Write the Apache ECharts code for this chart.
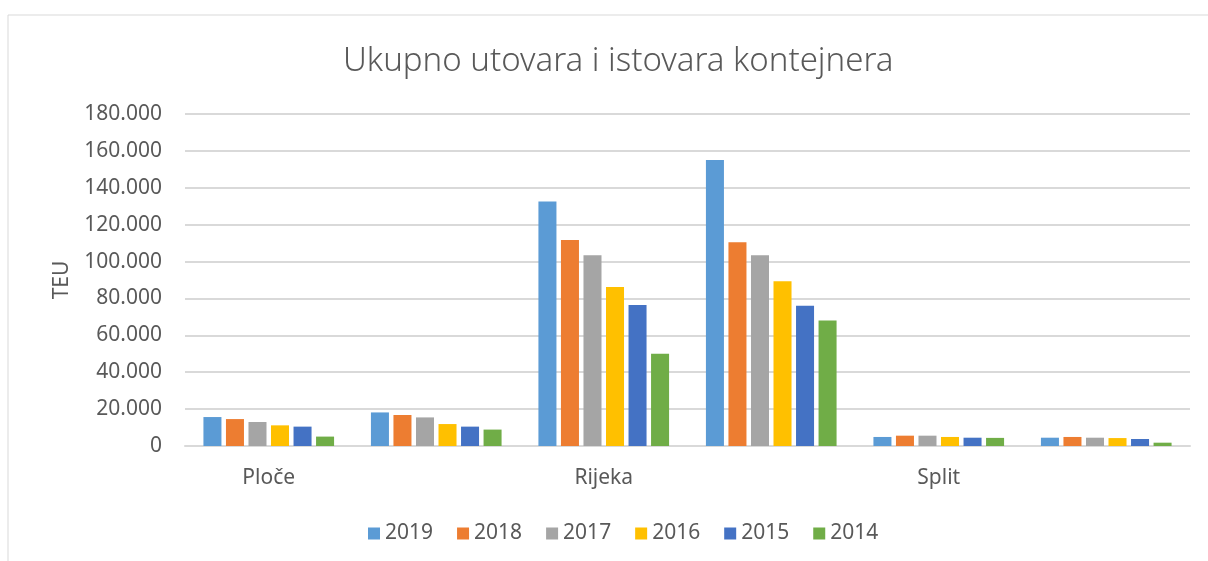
<!DOCTYPE html>
<html>
<head>
<meta charset="utf-8">
<script src="https://cdn.jsdelivr.net/npm/echarts@6/dist/echarts.min.js"></script>
<style>
  html, body { margin: 0; padding: 0; background: #fff; }
  #main { width: 1208px; height: 561px; }
</style>
</head>
<body>
<div id="main"></div>
<script>
// luke i godine
var ports = ['Ploče', '', 'Rijeka', '', 'Split', ''];
var years = ['2019', '2018', '2017', '2016', '2015', '2014'];
var colors = ['#5B9BD5', '#ED7D31', '#A5A5A5', '#FFC000', '#4472C4', '#70AD47'];

// TEU po godinama (procjena sa slike)
var teu2019 = [15700, 18200, 132600, 155000, 4900, 4500];
var teu2018 = [14600, 16800, 111700, 110400, 5600, 4900];
var teu2017 = [13000, 15500, 103400, 103400, 5600, 4500];
var teu2016 = [11200, 11900, 86200, 89300, 4900, 4300];
var teu2015 = [10500, 10500, 76400, 76000, 4500, 3800];
var teu2014 = [5100, 8900, 50000, 68100, 4400, 1800];
var values = [teu2019, teu2018, teu2017, teu2016, teu2015, teu2014];

function fmt(v) {
    return String(v).replace(/\B(?=(\d{3})+(?!\d))/g, '.');
}

var series = years.map(function (y, i) {
    return {
        name: y,
        type: 'bar',
        data: values[i],
        barGap: '25%',
        barCategoryGap: '22%',
        itemStyle: { color: colors[i] }
    };
});

var myChart = echarts.init(document.getElementById('main'));
myChart.setOption({
    animation: false,
    textStyle: { fontFamily: 'Noto Sans' },
    title: {
        text: 'Ukupno utovara i istovara kontejnera',
        left: 338,
        top: 40,
        textStyle: { fontSize: 33, fontWeight: 300, color: '#595959', fontFamily: 'Noto Sans' }
    },
    graphic: [{
        type: 'polyline',
        shape: { points: [[8, 561], [8, 15], [1208, 15]] },
        style: { stroke: '#d9d9d9', lineWidth: 1, fill: null }
    }],
    legend: {
        bottom: 12,
        left: 363,
        itemWidth: 12,
        itemHeight: 12,
        itemGap: 24,
        icon: 'rect',
        textStyle: { fontSize: 21, color: '#595959' },
        data: years
    },
    grid: { left: 185, right: 18, top: 114, bottom: 115 },
    xAxis: {
        type: 'category',
        data: ports,
        axisTick: { show: false },
        axisLine: { lineStyle: { color: '#d9d9d9', width: 2 } },
        axisLabel: { interval: 0, fontSize: 21, color: '#595959', margin: 22 }
    },
    yAxis: {
        type: 'value',
        min: 0,
        max: 180000,
        interval: 20000,
        name: 'TEU',
        nameLocation: 'middle',
        nameGap: 112,
        nameTextStyle: { fontSize: 21, color: '#595959' },
        axisLabel: { fontSize: 21, color: '#595959', margin: 23, formatter: fmt },
        splitLine: { lineStyle: { color: '#d9d9d9', width: 2 } }
    },
    series: series
});
</script>
</body>
</html>
